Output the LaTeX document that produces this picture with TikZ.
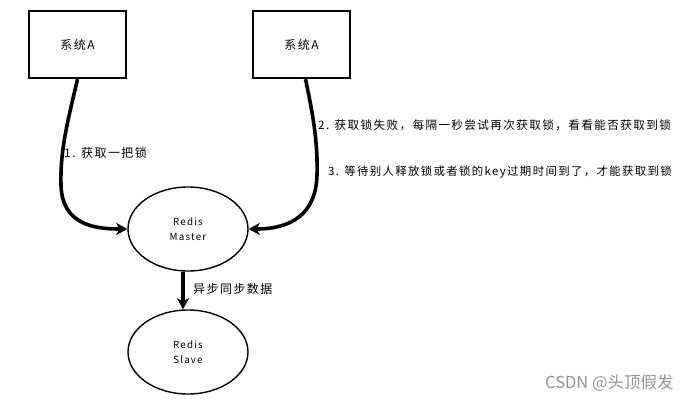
\documentclass[tikz,border=0pt]{standalone}
\usepackage{fontspec}
\setmainfont{Noto Sans CJK SC}
\newfontfamily\cjk[LetterSpace=12]{Noto Sans CJK SC}
\newfontfamily\wm{Noto Sans CJK SC}
\usetikzlibrary{arrows.meta,shapes.geometric}
\tikzset{
  sysbox/.style={draw, line width=2.4pt, minimum width=97, minimum height=67, inner sep=0, font=\cjk\fontsize{12}{14}\selectfont},
  redis/.style={draw, ellipse, line width=1.4pt, minimum width=120, minimum height=84, inner sep=0, align=center, font=\cjk\fontsize{9.8}{15}\selectfont},
  flow/.style={line width=3.6pt, -{Stealth[length=11pt,width=12pt,inset=3pt]}},
  lbl/.style={anchor=west, inner sep=0, font=\cjk\fontsize{12}{14}\selectfont}
}
\begin{document}
\begin{tikzpicture}[x=1pt,y=-1pt]
\useasboundingbox (0,0) rectangle (697,404);
\node[sysbox] (b1) at (77.5,44.5) {系统A};
\node[sysbox] (b2) at (301.5,44.5) {系统A};
\node[redis] (master) at (188,229) {Redis\\Master};
\node[redis] (slave) at (188,352) {Redis\\Slave};
\draw[flow] (b1.south) .. controls (68,120) and (60,150) .. (61,185) .. controls (62,225) and (95,229) .. (master.west);
\draw[flow] ([xshift=4]b2.south) .. controls (312,110) and (318,140) .. (317,175) .. controls (316,215) and (290,229) .. (master.east);
\draw[flow] ([xshift=-5]master.south) -- ([xshift=-5]slave.north);
\node[lbl] (l1) at (64,153) {1. 获取一把锁};
\node[lbl, font=\cjk\fontsize{11.6}{14}\selectfont] (l2) at (318,125) {2. 获取锁失败，每隔一秒尝试再次获取锁，看看能否获取到锁};
\node[lbl, font=\cjk\fontsize{11.4}{14}\selectfont] (l3) at (328,172) {3. 等待别人释放锁或者锁的key过期时间到了，才能获取到锁};
\node[lbl] (l4) at (193,289) {异步同步数据};
\node[anchor=west, inner sep=0, text=black!42, font=\wm\fontsize{16.5}{18}\selectfont] (wm) at (545,383) {CSDN @头顶假发};
\end{tikzpicture}
\end{document}
